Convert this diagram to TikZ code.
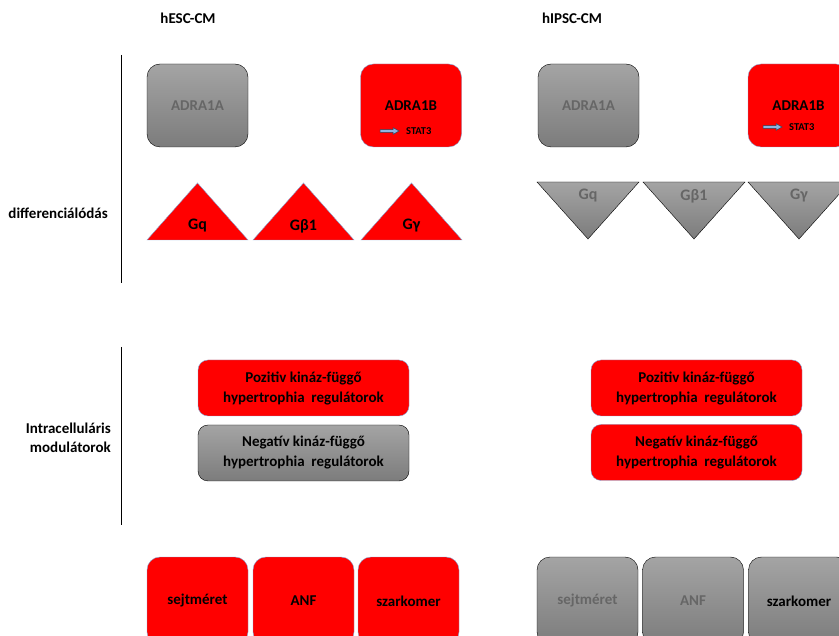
\documentclass[tikz,border=0pt]{standalone}
\usepackage{fontspec}
\setmainfont{Carlito}

\definecolor{grtop}{HTML}{A4A4A4}
\definecolor{grbot}{HTML}{7C7C7C}
\definecolor{grtext}{HTML}{666666}
\definecolor{rededge}{HTML}{7FA6D6}
\definecolor{arredge}{HTML}{2F3F55}
\definecolor{arrfill}{HTML}{8DB4E2}

\begin{document}
\begin{tikzpicture}[x=1pt, y=-1pt,
  lbl/.style={font=\bfseries\fontsize{15}{20}\selectfont},
  rowlbl/.style={font=\bfseries\fontsize{15}{19}\selectfont},
  box/.style={lbl, rounded corners=13pt, minimum width=101pt, minimum height=83pt, inner sep=0pt},
  graybox/.style={box, draw=black, top color=grtop, bottom color=grbot, text=grtext},
  redbox/.style={box, draw=rededge, fill=red},
  wide/.style={minimum width=211pt, minimum height=56pt, rounded corners=10pt, align=center},
  tall/.style={minimum height=88pt},
  redtri/.style={draw=rededge, fill=red},
  graytri/.style={draw=black, top color=grtop, bottom color=grbot},
  trilbl/.style={font=\bfseries\fontsize{16}{20}\selectfont},
  small/.style={font=\bfseries\fontsize{10.5}{12}\selectfont, inner sep=1pt},
  statarrow/.style={draw=arredge, fill=arrfill, line width=0.5pt},
]
  \clip (0,0) rectangle (839,636);

  % column headers
  \node[lbl] (hesc) at (188,18) {hESC-CM};
  \node[lbl] (hipsc) at (572,18) {hIPSC-CM};

  % row labels and separators
  \node[rowlbl, anchor=east, inner sep=0pt] (diff) at (108,213) {differenciálódás};
  \node[rowlbl, anchor=east, align=right, inner sep=0pt] (modul) at (111,438) {Intracelluláris\\modulátorok};
  \draw (121,55) -- (121,283);
  \draw (121,347) -- (121,525);

  % receptors, hESC-CM
  \node[graybox] (a1a-l) at (197.5,105.5) {ADRA1A};
  \node[redbox] (a1b-l) at (411,105.5) {ADRA1B};
  \node[small, anchor=west] (stat-l) at (405,131) {STAT3};
  \draw[statarrow] (380,129.6) -- (393,129.6) -- (393,127.6) -- (399,131) -- (393,134.4)
    -- (393,132.4) -- (380,132.4) -- cycle;

  % receptors, hIPSC-CM
  \node[graybox] (a1a-r) at (588.5,105.5) {ADRA1A};
  \node[redbox] (a1b-r) at (798.5,105.5) {ADRA1B};
  \node[small, anchor=west] (stat-r) at (788,127) {STAT3};
  \draw[statarrow] (763,125.6) -- (776,125.6) -- (776,123.6) -- (782,127) -- (776,130.4)
    -- (776,128.4) -- (763,128.4) -- cycle;

  % G proteins, hESC-CM
  \draw[redtri] (147,240) -- (197.5,183) -- (248,240) -- cycle;
  \draw[redtri] (253,240) -- (303.5,183) -- (354,240) -- cycle;
  \draw[redtri] (361,240) -- (411.5,183) -- (462,240) -- cycle;
  \node[trilbl] (gq-l) at (197.5,226) {Gq};
  \node[trilbl] (gb-l) at (303.5,226) {Gβ1};
  \node[trilbl] (gg-l) at (411.5,226) {Gγ};

  % G proteins, hIPSC-CM
  \draw[graytri] (537,182) -- (639,182) -- (588,239) -- cycle;
  \draw[graytri] (643,182) -- (745,182) -- (694,239) -- cycle;
  \draw[graytri] (748,182) -- (850,182) -- (799,239) -- cycle;
  \node[trilbl, text=grtext] (gq-r) at (588,196) {Gq};
  \node[trilbl, text=grtext] (gb-r) at (694,196) {Gβ1};
  \node[trilbl, text=grtext] (gg-r) at (799,196) {Gγ};

  % kinase regulators
  \node[redbox, wide] (pos-l) at (303.5,388) {Pozitiv kináz-függő\\hypertrophia\ \ regulátorok};
  \node[graybox, wide, text=black] (neg-l) at (303.5,453) {Negatív kináz-függő\\hypertrophia\ \ regulátorok};
  \node[redbox, wide] (pos-r) at (696.5,388) {Pozitiv kináz-függő\\hypertrophia\ \ regulátorok};
  \node[redbox, wide] (neg-r) at (696.5,452.5) {Negatív kináz-függő\\hypertrophia\ \ regulátorok};

  % phenotype markers
  \node[redbox, tall] (size-l) at (197.5,601) {sejtméret};
  \node[redbox, tall] (anf-l) at (303.5,601) {ANF};
  \node[redbox, tall] (sarc-l) at (408.5,601) {szarkomer};
  \node[graybox, tall] (size-r) at (587.5,601) {sejtméret};
  \node[graybox, tall] (anf-r) at (693,601) {ANF};
  \node[graybox, tall, text=black] (sarc-r) at (799,601) {szarkomer};
\end{tikzpicture}
\end{document}
